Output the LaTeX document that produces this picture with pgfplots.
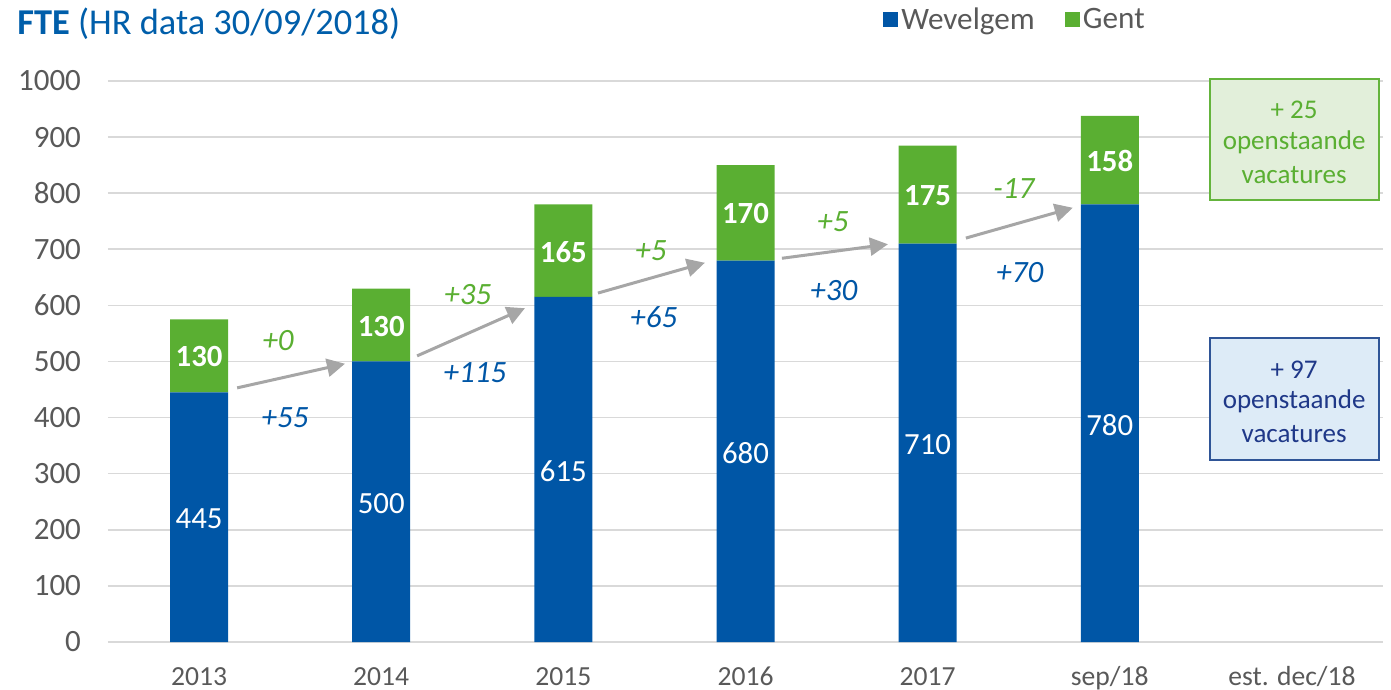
\documentclass[border=0pt]{standalone}
\usepackage{fontspec}
\setmainfont{Carlito}
\usepackage{pgfplots}
\pgfplotsset{compat=1.18}
\usetikzlibrary{arrows.meta}
\definecolor{wblue}{RGB}{0,86,166}
\definecolor{ggreen}{RGB}{90,175,50}
\definecolor{tblue}{RGB}{0,94,170}
\definecolor{gridgray}{RGB}{217,217,217}
\definecolor{tickgray}{RGB}{89,89,89}
\definecolor{arrgray}{RGB}{166,166,166}
\definecolor{boxgfill}{RGB}{226,239,218}
\definecolor{boxgline}{RGB}{100,180,60}
\definecolor{boxbfill}{RGB}{221,235,247}
\definecolor{boxbline}{RGB}{47,85,151}
\definecolor{boxbtext}{RGB}{31,56,136}
\tikzset{
  blab/.style={text=white, font=\fontsize{15.4}{18}\selectfont},
  glab/.style={text=white, font=\fontsize{15.4}{18}\selectfont\bfseries},
  arr/.style={draw=arrgray, line width=1.5pt, -{Triangle[length=9pt,width=9pt]}},
  ann/.style={font=\fontsize{15.5}{18}\selectfont\itshape},
  boxt/.style={font=\fontsize{13.5}{16.5}\selectfont, inner sep=0pt},
}
\begin{document}
\begin{tikzpicture}
\useasboundingbox (0,0) rectangle (695.5pt,345pt);
\node[anchor=base west, inner sep=0pt, text=tblue, font=\fontsize{18.2}{22}\selectfont] at (8.5pt,327.5pt) {\textbf{FTE} (HR data 30/09/2018)};
\begin{axis}[
  at={(54pt,24pt)}, anchor=south west,
  scale only axis, width=637.5pt, height=280.5pt,
  ybar stacked, bar width=29pt,
  xmin=-0.5, xmax=6.5, ymin=0, ymax=1000,
  xtick={0,1,2,3,4,5,6},
  xticklabels={2013,2014,2015,2016,2017,sep/18,est. dec/18},
  ytick={0,100,...,1000},
  /pgf/number format/assume math mode=true,
  /pgf/number format/1000 sep={},
  major tick length=0pt,
  ymajorgrids, grid style={draw=gridgray, line width=0.8pt},
  axis x line*=bottom, axis y line*=left,
  x axis line style={draw=gridgray, line width=1pt},
  y axis line style={draw=none},
  xticklabel style={anchor=base, yshift=-21.8pt, text=tickgray, font=\fontsize{13.8}{16}\selectfont},
  yticklabel style={anchor=east, xshift=-10pt, text=tickgray, font=\fontsize{15.5}{18}\selectfont},
  clip=false,
  legend style={at={(rel axis cs:0.603,1.109)}, anchor=west, draw=none, fill=none,
    legend columns=2, font=\fontsize{15.6}{18}\selectfont, text=tickgray,
    /tikz/every even column/.append style={column sep=13.5pt},
    nodes={inner sep=1.5pt}},
  legend image code/.code={\draw[#1, draw=none] (0pt,-3.8pt) rectangle (7.6pt,3.8pt);},
]
\addplot[fill=wblue, draw=none] coordinates {(0,445) (1,500) (2,615) (3,680) (4,710) (5,780)};
\addlegendentry{Wevelgem}
\addplot[fill=ggreen, draw=none] coordinates {(0,130) (1,130) (2,165) (3,170) (4,175) (5,158)};
\addlegendentry{Gent}

\coordinate (b0) at (axis cs:0,219);
\coordinate (b1) at (axis cs:1,247);
\coordinate (b2) at (axis cs:2,304);
\coordinate (b3) at (axis cs:3,336);
\coordinate (b4) at (axis cs:4,351);
\coordinate (b5) at (axis cs:5,386);
\coordinate (g0) at (axis cs:0,508);
\coordinate (g1) at (axis cs:1,563);
\coordinate (g2) at (axis cs:2,695);
\coordinate (g3) at (axis cs:3,763);
\coordinate (g4) at (axis cs:4,795);
\coordinate (g5) at (axis cs:5,857);

\draw[arr] (axis cs:0.209,453) -- (axis cs:0.801,496);
\draw[arr] (axis cs:1.197,510) -- (axis cs:1.789,595);
\draw[arr] (axis cs:2.19,622) -- (axis cs:2.777,676);
\draw[arr] (axis cs:3.2,684) -- (axis cs:3.782,709);
\draw[arr] (axis cs:4.21,720) -- (axis cs:4.797,774);

\node[ann, text=ggreen] at (axis cs:0.434,538) {+0};
\node[ann, text=wblue] at (axis cs:0.472,399) {+55};
\node[ann, text=ggreen] at (axis cs:1.476,620) {+35};
\node[ann, text=wblue] at (axis cs:1.515,481) {+115};
\node[ann, text=ggreen] at (axis cs:2.481,697) {+5};
\node[ann, text=wblue] at (axis cs:2.497,579) {+65};
\node[ann, text=ggreen] at (axis cs:3.48,749) {+5};
\node[ann, text=wblue] at (axis cs:3.485,626) {+30};
\node[ann, text=ggreen] at (axis cs:4.473,809) {-17};
\node[ann, text=wblue] at (axis cs:4.506,658) {+70};

\draw[boxgline, fill=boxgfill, line width=1pt] (axis cs:5.549,1003.6) rectangle (axis cs:6.476,787.9);
\draw[boxbline, fill=boxbfill, line width=1pt] (axis cs:5.549,541.9) rectangle (axis cs:6.476,324.4);
\coordinate (gb1) at (axis cs:6.012,948);
\coordinate (gb2) at (axis cs:6.012,891);
\coordinate (gb3) at (axis cs:6.012,832);
\coordinate (bb1) at (axis cs:6.012,486);
\coordinate (bb2) at (axis cs:6.012,429);
\coordinate (bb3) at (axis cs:6.012,370);
\end{axis}
\foreach \c/\t in {b0/445,b1/500,b2/615,b3/680,b4/710,b5/780}{\node[blab] at (\c) {\t};}
\foreach \c/\t in {g0/130,g1/130,g2/165,g3/170,g4/175,g5/158}{\node[glab] at (\c) {\t};}
\node[boxt, text=ggreen] at (gb1) {+ 25};
\node[boxt, text=ggreen] at (gb2) {openstaande};
\node[boxt, text=ggreen] at (gb3) {vacatures};
\node[boxt, text=boxbtext] at (bb1) {+ 97};
\node[boxt, text=boxbtext] at (bb2) {openstaande};
\node[boxt, text=boxbtext] at (bb3) {vacatures};
\end{tikzpicture}
\end{document}
